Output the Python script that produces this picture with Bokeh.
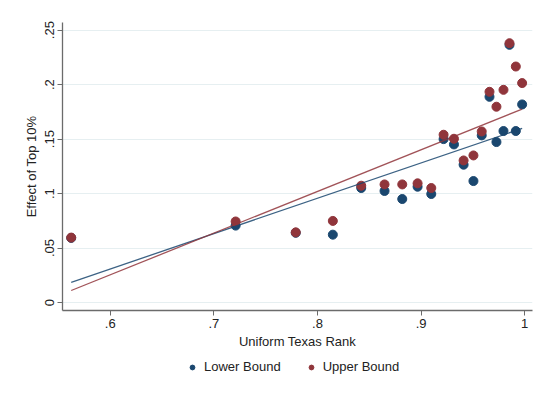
import numpy as np
from bokeh.plotting import figure
from bokeh.layouts import column
from bokeh.models import ColumnDataSource, CustomJSTickFormatter, FixedTicker, Legend, LegendItem, Range1d
from bokeh.embed import file_html
from bokeh.resources import INLINE

rank = [0.5623, 0.721, 0.779, 0.8148, 0.8422, 0.8647, 0.8818, 0.8966, 0.9098, 0.9217,
        0.9317, 0.941, 0.9505, 0.9585, 0.966, 0.9727, 0.9795, 0.9853, 0.9914, 0.9975]
lower = [0.0593, 0.0706, 0.0640, 0.0623, 0.1051, 0.1024, 0.0950, 0.1063, 0.0996, 0.1500,
         0.1451, 0.1265, 0.1115, 0.1534, 0.1888, 0.1473, 0.1574, 0.2365, 0.1574, 0.1818]
upper = [0.0596, 0.0744, 0.0644, 0.0749, 0.1072, 0.1084, 0.1084, 0.1094, 0.1051, 0.1540,
         0.1503, 0.1304, 0.1350, 0.1570, 0.1934, 0.1797, 0.1952, 0.2380, 0.2166, 0.2014]
# linear fits (intercept, slope) as shown in the chart
fit_lower = [-0.1639, 0.3245]
fit_upper = [-0.2041, 0.3826]
x_ticks = [0.6, 0.7, 0.8, 0.9, 1.0]
y_ticks = [0, 0.05, 0.10, 0.15, 0.20, 0.25]
series_names = ["Lower Bound", "Upper Bound"]

NAVY = "#1a476f"
MAROON = "#90353b"

p = figure(width=536, height=352, output_backend="svg", toolbar_location=None,
           x_range=Range1d(0.5539, 1.0075), y_range=Range1d(-0.0073, 0.257),
           min_border_left=62, min_border_right=4, min_border_top=22, min_border_bottom=42,
           background_fill_color="white", border_fill_color="white")
p.outline_line_color = None

fit_x = np.array([min(rank), max(rank)])

src = ColumnDataSource(dict(x=rank, lo=lower, up=upper))
p.scatter("x", "lo", source=src, size=9, color=NAVY, line_color=NAVY)
p.scatter("x", "up", source=src, size=9, color=MAROON, line_color=MAROON)
p.line(fit_x, fit_lower[0] + fit_lower[1] * fit_x, line_color=NAVY, line_width=1.3, line_alpha=0.85)
p.line(fit_x, fit_upper[0] + fit_upper[1] * fit_x, line_color=MAROON, line_width=1.3, line_alpha=0.85)

fmt = CustomJSTickFormatter(code="""
var s = tick.toFixed(2).replace(/0+$/, '').replace(/\\.$/, '');
if (s.startsWith('0.')) s = s.slice(1);
return s;
""")

for ax in (p.xaxis[0], p.yaxis[0]):
    ax.formatter = fmt
    ax.axis_line_color = "#6b6b6b"
    ax.axis_line_width = 1.3
    ax.major_tick_line_color = "#6b6b6b"
    ax.major_tick_out = 5
    ax.major_tick_in = 0
    ax.minor_tick_line_color = None
    ax.major_label_text_font = "Liberation Sans"
    ax.major_label_text_font_size = "13px"
    ax.major_label_text_color = "#222222"
    ax.axis_label_text_font = "Liberation Sans"
    ax.axis_label_text_font_size = "13px"
    ax.axis_label_text_font_style = "normal"
    ax.axis_label_text_color = "#222222"

p.xaxis.ticker = FixedTicker(ticks=x_ticks)
p.yaxis.ticker = FixedTicker(ticks=y_ticks)
p.xaxis.axis_label = "Uniform Texas Rank"
p.yaxis.axis_label = "Effect of Top 10%"
p.yaxis.major_label_orientation = "vertical"
p.xaxis.major_label_standoff = 3
p.xaxis.axis_label_standoff = 3
p.yaxis.major_label_standoff = 3
p.yaxis.axis_label_standoff = 4

p.xgrid.grid_line_color = None
p.ygrid.grid_line_color = "#e6eff1"
p.ygrid.grid_line_width = 1

# legend strip
lg = figure(width=536, height=42, output_backend="svg", toolbar_location=None,
            x_range=Range1d(0, 1), y_range=Range1d(0, 1),
            x_axis_location=None, y_axis_location=None,
            min_border=0, background_fill_color="white", border_fill_color="white")
lg.outline_line_color = None
lg.grid.grid_line_color = None
# off-screen proxies so the legend can draw its markers
g_lo = lg.scatter(x=[-10], y=[-10], size=9, color=NAVY, line_color=NAVY)
g_up = lg.scatter(x=[-10], y=[-10], size=9, color=MAROON, line_color=MAROON)
legend = Legend(items=[LegendItem(label=series_names[0], renderers=[g_lo]),
                       LegendItem(label=series_names[1], renderers=[g_up])],
                orientation="horizontal", location=(124, 20),
                label_text_font="Liberation Sans", label_text_font_size="13px",
                label_text_color="#222222", glyph_width=12, glyph_height=14,
                label_standoff=6, spacing=24, padding=6, margin=0,
                border_line_color=None, background_fill_alpha=0)
lg.add_layout(legend, "center")

layout = column(p, lg, spacing=0)
open("out.html", "w").write(file_html(layout, INLINE))
